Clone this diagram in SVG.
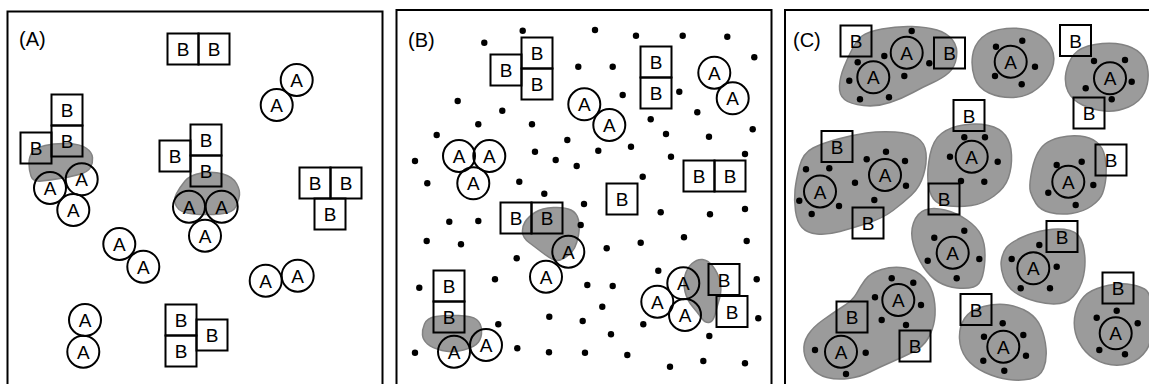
<svg xmlns="http://www.w3.org/2000/svg" width="1149" height="384" viewBox="0 0 1149 384">
  <style>
    .frame { fill: none; stroke: #000; stroke-width: 2; }
    .box { fill: none; stroke: #000; stroke-width: 2; }
    .ring { fill: none; stroke: #000; stroke-width: 2; }
    .blob { fill: #9b9b9b; stroke: #828282; stroke-width: 1.5; }
    .dot { fill: #000; }
    .t { font-family: "Liberation Sans", Arial, sans-serif; font-size: 19px; text-anchor: middle; fill: #000; }
    .tag { font-family: "Liberation Sans", Arial, sans-serif; font-size: 20px; fill: #000; }
  </style>

  <!-- Panel A: free molecules, two small aggregates -->
  <g id="panelA">
    <rect class="frame" x="7.5" y="11.5" width="375" height="390"/>
    <text class="tag" x="19" y="46">(A)</text>
    <g id="A-blobs">
      <path class="blob" d="M45,145.5 Q55,143 67.5,143.5 Q80,144 86,148 Q92,152 92.5,157.5 Q93,163 90.5,167.5 Q88,172 79,174.5 Q70,177 60,178.5 Q50,180 41.5,181 Q33,182 31,176 Q29,170 29,163.5 Q29,157 32,152.5 Q35,148 45,145.5 Z"/>
      <path class="blob" d="M185,181 Q190,175 201.5,173 Q213,171 223,174 Q233,177 236.5,183.5 Q240,190 239.5,195 Q239,200 236,206.5 Q233,213 220,214 Q207,215 193.5,214 Q180,213 176.5,206.5 Q173,200 176.5,193.5 Q180,187 185,181 Z"/>
    </g>
    <g id="A-bb-top">
      <rect class="box" x="167.5" y="33.5" width="31" height="31"/><text class="t" x="183" y="56">B</text>
      <rect class="box" x="198.5" y="33.5" width="31" height="31"/><text class="t" x="214" y="56">B</text>
    </g>
    <g id="A-aa-topright">
      <circle class="ring" cx="296.7" cy="80" r="16"/><text class="t" x="296.7" y="87">A</text>
      <circle class="ring" cx="276.7" cy="105" r="16"/><text class="t" x="276.7" y="112">A</text>
    </g>
    <g id="A-cluster-left">
      <rect class="box" x="51.5" y="94.5" width="31" height="31"/><text class="t" x="67" y="117">B</text>
      <rect class="box" x="51.5" y="125.5" width="31" height="31"/><text class="t" x="67" y="148">B</text>
      <rect class="box" x="20.5" y="132.5" width="31" height="31"/><text class="t" x="36" y="155">B</text>
      <circle class="ring" cx="50" cy="188" r="16"/><text class="t" x="50" y="195">A</text>
      <circle class="ring" cx="81.7" cy="179.3" r="16"/><text class="t" x="81.7" y="186.3">A</text>
      <circle class="ring" cx="73.3" cy="210" r="16"/><text class="t" x="73.3" y="217">A</text>
    </g>
    <g id="A-cluster-mid">
      <rect class="box" x="190.5" y="124.5" width="31" height="31"/><text class="t" x="206" y="147">B</text>
      <rect class="box" x="190.5" y="155.5" width="31" height="31"/><text class="t" x="206" y="178">B</text>
      <rect class="box" x="159.5" y="140.5" width="31" height="31"/><text class="t" x="175" y="163">B</text>
      <circle class="ring" cx="189" cy="206.7" r="16"/><text class="t" x="189" y="213.7">A</text>
      <circle class="ring" cx="221.7" cy="206.7" r="16"/><text class="t" x="221.7" y="213.7">A</text>
      <circle class="ring" cx="205" cy="235.7" r="16"/><text class="t" x="205" y="242.7">A</text>
    </g>
    <g id="A-bbb-right">
      <rect class="box" x="299.5" y="167.5" width="31" height="31"/><text class="t" x="315" y="190">B</text>
      <rect class="box" x="330.5" y="167.5" width="31" height="31"/><text class="t" x="346" y="190">B</text>
      <rect class="box" x="314.5" y="198.5" width="31" height="31"/><text class="t" x="330" y="221">B</text>
    </g>
    <g id="A-aa-mid">
      <circle class="ring" cx="119.3" cy="244" r="16"/><text class="t" x="119.3" y="251">A</text>
      <circle class="ring" cx="143.3" cy="266.7" r="16"/><text class="t" x="143.3" y="273.7">A</text>
    </g>
    <g id="A-aa-right">
      <circle class="ring" cx="265.7" cy="280.7" r="16"/><text class="t" x="265.7" y="287.7">A</text>
      <circle class="ring" cx="297.7" cy="275.7" r="16"/><text class="t" x="297.7" y="282.7">A</text>
    </g>
    <g id="A-aa-bottom">
      <circle class="ring" cx="85" cy="320" r="16"/><text class="t" x="85" y="327">A</text>
      <circle class="ring" cx="83.3" cy="351.7" r="16"/><text class="t" x="83.3" y="358.7">A</text>
    </g>
    <g id="A-bbb-bottom">
      <rect class="box" x="165.5" y="304.5" width="31" height="31"/><text class="t" x="181" y="327">B</text>
      <rect class="box" x="165.5" y="335.5" width="31" height="31"/><text class="t" x="181" y="358">B</text>
      <rect class="box" x="196.5" y="319.5" width="31" height="31"/><text class="t" x="212" y="342">B</text>
    </g>
  </g>

  <!-- Panel B: molecules among crowding particles -->
  <g id="panelB">
    <rect class="frame" x="396.5" y="10" width="375" height="390"/>
    <text class="tag" x="408" y="46.5">(B)</text>
    <g id="B-blobs">
      <path class="blob" d="M553.5,207.5 Q565,207 571,210 Q577,213 578.5,220 Q580,227 578.5,235 Q577,243 574.5,248 Q572,253 565,257.5 Q558,262 553,259.5 Q548,257 541.5,252 Q535,247 529,242.5 Q523,238 522.5,232.5 Q522,227 525,222 Q528,217 535,212.5 Q542,208 553.5,207.5 Z"/>
      <path class="blob" d="M424.5,324 Q427,318 436,316.5 Q445,315 458.5,315.5 Q472,316 476.5,319.5 Q481,323 481.5,330 Q482,337 478.5,342 Q475,347 463.5,350 Q452,353 442,350.5 Q432,348 427.5,344 Q423,340 422.5,335 Q422,330 424.5,324 Z"/>
      <path class="blob" d="M702.5,259.5 Q708,260 713,266.5 Q718,273 720,281.5 Q722,290 719.5,298.5 Q717,307 715,314.5 Q713,322 709,322.5 Q705,323 701.5,318 Q698,313 692.5,306.5 Q687,300 685,291.5 Q683,283 685,275.5 Q687,268 692,263.5 Q697,259 702.5,259.5 Z"/>
    </g>
    <g id="B-crowders">
      <circle class="dot" cx="522.7" cy="30.7" r="3.2"/>
      <circle class="dot" cx="484.3" cy="42.7" r="3.2"/>
      <circle class="dot" cx="595" cy="30" r="3.2"/>
      <circle class="dot" cx="636" cy="35.7" r="3.2"/>
      <circle class="dot" cx="682.7" cy="35.7" r="3.2"/>
      <circle class="dot" cx="727.3" cy="36.7" r="3.2"/>
      <circle class="dot" cx="754.3" cy="57.3" r="3.2"/>
      <circle class="dot" cx="578.3" cy="66.7" r="3.2"/>
      <circle class="dot" cx="612.7" cy="66.7" r="3.2"/>
      <circle class="dot" cx="457.7" cy="101" r="3.2"/>
      <circle class="dot" cx="502.3" cy="110.7" r="3.2"/>
      <circle class="dot" cx="622.7" cy="95" r="3.2"/>
      <circle class="dot" cx="679.3" cy="91.7" r="3.2"/>
      <circle class="dot" cx="697.3" cy="112.3" r="3.2"/>
      <circle class="dot" cx="478.3" cy="124.3" r="3.2"/>
      <circle class="dot" cx="532" cy="124.3" r="3.2"/>
      <circle class="dot" cx="650.7" cy="119.3" r="3.2"/>
      <circle class="dot" cx="436.7" cy="135" r="3.2"/>
      <circle class="dot" cx="567.3" cy="140" r="3.2"/>
      <circle class="dot" cx="666" cy="134" r="3.2"/>
      <circle class="dot" cx="709" cy="136.7" r="3.2"/>
      <circle class="dot" cx="752.7" cy="129.3" r="3.2"/>
      <circle class="dot" cx="598.3" cy="150.7" r="3.2"/>
      <circle class="dot" cx="631" cy="146.7" r="3.2"/>
      <circle class="dot" cx="535" cy="151.7" r="3.2"/>
      <circle class="dot" cx="555.7" cy="160" r="3.2"/>
      <circle class="dot" cx="576.7" cy="166" r="3.2"/>
      <circle class="dot" cx="671" cy="156.7" r="3.2"/>
      <circle class="dot" cx="745" cy="154" r="3.2"/>
      <circle class="dot" cx="415" cy="161" r="3.2"/>
      <circle class="dot" cx="427.3" cy="183.3" r="3.2"/>
      <circle class="dot" cx="519.3" cy="181.7" r="3.2"/>
      <circle class="dot" cx="544.3" cy="193.7" r="3.2"/>
      <circle class="dot" cx="642.7" cy="176.7" r="3.2"/>
      <circle class="dot" cx="584" cy="204" r="3.2"/>
      <circle class="dot" cx="449.3" cy="221.7" r="3.2"/>
      <circle class="dot" cx="478.3" cy="221" r="3.2"/>
      <circle class="dot" cx="580.7" cy="225" r="3.2"/>
      <circle class="dot" cx="660.7" cy="212.3" r="3.2"/>
      <circle class="dot" cx="710" cy="214.3" r="3.2"/>
      <circle class="dot" cx="745" cy="209" r="3.2"/>
      <circle class="dot" cx="426.7" cy="241" r="3.2"/>
      <circle class="dot" cx="461" cy="244.3" r="3.2"/>
      <circle class="dot" cx="640.7" cy="242.7" r="3.2"/>
      <circle class="dot" cx="684" cy="237.3" r="3.2"/>
      <circle class="dot" cx="746.7" cy="241" r="3.2"/>
      <circle class="dot" cx="516.7" cy="258.3" r="3.2"/>
      <circle class="dot" cx="606.7" cy="248.3" r="3.2"/>
      <circle class="dot" cx="495" cy="279.3" r="3.2"/>
      <circle class="dot" cx="419.3" cy="287.7" r="3.2"/>
      <circle class="dot" cx="587.3" cy="285" r="3.2"/>
      <circle class="dot" cx="612.7" cy="286" r="3.2"/>
      <circle class="dot" cx="658.3" cy="270.7" r="3.2"/>
      <circle class="dot" cx="756.7" cy="279.3" r="3.2"/>
      <circle class="dot" cx="602.3" cy="306.7" r="3.2"/>
      <circle class="dot" cx="549.3" cy="316.7" r="3.2"/>
      <circle class="dot" cx="582.7" cy="321" r="3.2"/>
      <circle class="dot" cx="498.3" cy="324.3" r="3.2"/>
      <circle class="dot" cx="643.3" cy="324.3" r="3.2"/>
      <circle class="dot" cx="611" cy="334.3" r="3.2"/>
      <circle class="dot" cx="709.3" cy="336" r="3.2"/>
      <circle class="dot" cx="758.3" cy="318.3" r="3.2"/>
      <circle class="dot" cx="415" cy="352.7" r="3.2"/>
      <circle class="dot" cx="517.3" cy="348.3" r="3.2"/>
      <circle class="dot" cx="549" cy="352.3" r="3.2"/>
      <circle class="dot" cx="585" cy="352.7" r="3.2"/>
      <circle class="dot" cx="627.3" cy="355" r="3.2"/>
      <circle class="dot" cx="670" cy="366.7" r="3.2"/>
      <circle class="dot" cx="703.3" cy="361" r="3.2"/>
      <circle class="dot" cx="745" cy="363.3" r="3.2"/>
    </g>
    <g id="B-bbb-topleft">
      <rect class="box" x="521.5" y="37.5" width="31" height="31"/><text class="t" x="537" y="60">B</text>
      <rect class="box" x="521.5" y="68.5" width="31" height="31"/><text class="t" x="537" y="91">B</text>
      <rect class="box" x="490.5" y="54.5" width="31" height="31"/><text class="t" x="506" y="77">B</text>
    </g>
    <g id="B-bb-stack">
      <rect class="box" x="640.5" y="46.5" width="31" height="31"/><text class="t" x="656" y="69">B</text>
      <rect class="box" x="640.5" y="77.5" width="31" height="31"/><text class="t" x="656" y="100">B</text>
    </g>
    <g id="B-aa-mid">
      <circle class="ring" cx="584.3" cy="104.3" r="16"/><text class="t" x="584.3" y="111.3">A</text>
      <circle class="ring" cx="609.3" cy="125" r="16"/><text class="t" x="609.3" y="132">A</text>
    </g>
    <g id="B-aa-topright">
      <circle class="ring" cx="714.3" cy="72.7" r="16"/><text class="t" x="714.3" y="79.7">A</text>
      <circle class="ring" cx="732.7" cy="98.3" r="16"/><text class="t" x="732.7" y="105.3">A</text>
    </g>
    <g id="B-aaa-left">
      <circle class="ring" cx="459" cy="156" r="16"/><text class="t" x="459" y="163">A</text>
      <circle class="ring" cx="489.3" cy="156" r="16"/><text class="t" x="489.3" y="163">A</text>
      <circle class="ring" cx="473.3" cy="183.3" r="16"/><text class="t" x="473.3" y="190.3">A</text>
    </g>
    <g id="B-bb-right">
      <rect class="box" x="683.5" y="160.5" width="31" height="31"/><text class="t" x="699" y="183">B</text>
      <rect class="box" x="714.5" y="160.5" width="31" height="31"/><text class="t" x="730" y="183">B</text>
    </g>
    <g id="B-b-single">
      <rect class="box" x="606.5" y="183.5" width="31" height="31"/><text class="t" x="622" y="206">B</text>
    </g>
    <g id="B-complex-mid">
      <rect class="box" x="500.5" y="202.5" width="31" height="31"/><text class="t" x="516" y="225">B</text>
      <rect class="box" x="531.5" y="202.5" width="31" height="31"/><text class="t" x="547" y="225">B</text>
      <circle class="ring" cx="568.3" cy="251.7" r="16"/><text class="t" x="568.3" y="258.7">A</text>
      <circle class="ring" cx="546" cy="276.7" r="16"/><text class="t" x="546" y="283.7">A</text>
    </g>
    <g id="B-complex-left">
      <rect class="box" x="433.5" y="270.5" width="31" height="31"/><text class="t" x="449" y="293">B</text>
      <rect class="box" x="433.5" y="301.5" width="31" height="31"/><text class="t" x="449" y="324">B</text>
      <circle class="ring" cx="454" cy="351.7" r="16"/><text class="t" x="454" y="358.7">A</text>
      <circle class="ring" cx="486" cy="345" r="16"/><text class="t" x="486" y="352">A</text>
    </g>
    <g id="B-complex-right">
      <circle class="ring" cx="683.3" cy="283.3" r="16"/><text class="t" x="683.3" y="290.3">A</text>
      <circle class="ring" cx="657.3" cy="301.7" r="16"/><text class="t" x="657.3" y="308.7">A</text>
      <circle class="ring" cx="685" cy="315" r="16"/><text class="t" x="685" y="322">A</text>
      <rect class="box" x="708.5" y="264" width="31" height="31"/><text class="t" x="724" y="286.5">B</text>
      <rect class="box" x="716.5" y="296" width="31" height="31"/><text class="t" x="732" y="318.5">B</text>
    </g>
  </g>

  <!-- Panel C: condensates, each A surrounded by its partners -->
  <g id="panelC">
    <rect class="frame" x="785" y="10" width="380" height="390"/>
    <text class="tag" x="793" y="46.5">(C)</text>
    <g id="C-blobs">
      <path class="blob" d="M882,29 Q897,26 912,26.5 Q927,27 937,30 Q947,33 952.5,40 Q958,47 956.5,57 Q955,67 949,72.5 Q943,78 933,82.5 Q923,87 913,92.5 Q903,98 890,102.5 Q877,107 863.5,105.5 Q850,104 844.5,99.5 Q839,95 839.5,86 Q840,77 844,67 Q848,57 852.5,48.5 Q857,40 862,36 Q867,32 882,29 Z"/>
      <path class="blob" d="M1006.5,28.5 Q1023,27 1035,32.5 Q1047,38 1051.5,48 Q1056,58 1052,69 Q1048,80 1037.5,88.5 Q1027,97 1013.5,97.5 Q1000,98 989,93 Q978,88 974.5,77.5 Q971,67 972.5,56 Q974,45 982,37.5 Q990,30 1006.5,28.5 Z"/>
      <path class="blob" d="M1095,44.5 Q1110,42 1122,44.5 Q1134,47 1140.5,53.5 Q1147,60 1148,71.5 Q1149,83 1144.5,92.5 Q1140,102 1128.5,107 Q1117,112 1105,111 Q1093,110 1082.5,105 Q1072,100 1068,91.5 Q1064,83 1066,72.5 Q1068,62 1074,54.5 Q1080,47 1095,44.5 Z"/>
      <path class="blob" d="M813,148 Q823,143 838,139 Q853,135 866.5,133 Q880,131 895,132 Q910,133 917.5,138 Q925,143 926,153 Q927,163 923.5,175 Q920,187 911.5,195 Q903,203 893,210.5 Q883,218 868,223 Q853,228 840,231.5 Q827,235 817,234 Q807,233 802,227.5 Q797,222 795.5,211 Q794,200 795,190 Q796,180 799.5,166.5 Q803,153 813,148 Z"/>
      <path class="blob" d="M941.5,133.5 Q950,127 963.5,125 Q977,123 988.5,125.5 Q1000,128 1005.5,135.5 Q1011,143 1011.5,155 Q1012,167 1008.5,177.5 Q1005,188 994,196 Q983,204 971.5,205.5 Q960,207 949,206 Q938,205 933.5,199 Q929,193 928,181.5 Q927,170 930,155 Q933,140 941.5,133.5 Z"/>
      <path class="blob" d="M1060,137.5 Q1070,135 1080,136 Q1090,137 1096.5,142 Q1103,147 1105,157 Q1107,167 1106,177 Q1105,187 1102.5,193.5 Q1100,200 1091.5,206 Q1083,212 1071.5,213.5 Q1060,215 1050,212.5 Q1040,210 1036,203.5 Q1032,197 1030.5,192 Q1029,187 1031,175 Q1033,163 1036.5,155.5 Q1040,148 1045,144 Q1050,140 1060,137.5 Z"/>
      <path class="blob" d="M925,210 Q933,207 945,210 Q957,213 967,220 Q977,227 981,235 Q985,243 985,255 Q985,267 982.5,276 Q980,285 973.5,287 Q967,289 957,288 Q947,287 938.5,282 Q930,277 923.5,267 Q917,257 913.5,245 Q910,233 913.5,223 Q917,213 925,210 Z"/>
      <path class="blob" d="M1021.5,237.5 Q1033,232 1046.5,230 Q1060,228 1070,230.5 Q1080,233 1083,245 Q1086,257 1084.5,270 Q1083,283 1076.5,292.5 Q1070,302 1060,303.5 Q1050,305 1036.5,301.5 Q1023,298 1015,292.5 Q1007,287 1003.5,277 Q1000,267 1001.5,259.5 Q1003,252 1006.5,247.5 Q1010,243 1021.5,237.5 Z"/>
      <path class="blob" d="M881.5,269.5 Q893,266 905,268 Q917,270 924.5,278.5 Q932,287 934,298.5 Q936,310 934.5,320 Q933,330 928,338.5 Q923,347 913,352 Q903,357 891.5,362 Q880,367 870,372 Q860,377 848.5,378.5 Q837,380 827,377.5 Q817,375 811,367.5 Q805,360 804,351.5 Q803,343 808,335 Q813,327 823,320 Q833,313 843,306.5 Q853,300 856.5,293.5 Q860,287 865,280 Q870,273 881.5,269.5 Z"/>
      <path class="blob" d="M983.5,306.5 Q997,303 1008.5,305 Q1020,307 1028.5,312.5 Q1037,318 1041,327.5 Q1045,337 1046,348.5 Q1047,360 1043.5,368.5 Q1040,377 1030,379 Q1020,381 1008.5,379.5 Q997,378 985,372.5 Q973,367 966.5,358.5 Q960,350 959.5,338.5 Q959,327 964.5,318.5 Q970,310 983.5,306.5 Z"/>
      <path class="blob" d="M1103.5,286.5 Q1117,283 1127,284 Q1137,285 1144.5,289 Q1152,293 1152.5,316.5 Q1153,340 1146.5,350 Q1140,360 1128.5,363.5 Q1117,367 1105,363.5 Q1093,360 1085.5,351.5 Q1078,343 1075.5,333 Q1073,323 1075.5,313 Q1078,303 1084,296.5 Q1090,290 1103.5,286.5 Z"/>
    </g>
    <g id="C-crowders">
      <circle class="dot" cx="857.7" cy="62.3" r="3.2"/>
      <circle class="dot" cx="849.3" cy="80.7" r="3.2"/>
      <circle class="dot" cx="860" cy="99.3" r="3.2"/>
      <circle class="dot" cx="889" cy="97.3" r="3.2"/>
      <circle class="dot" cx="884.3" cy="56" r="3.2"/>
      <circle class="dot" cx="911.7" cy="31" r="3.2"/>
      <circle class="dot" cx="904.3" cy="76" r="3.2"/>
      <circle class="dot" cx="929.3" cy="63.3" r="3.2"/>
      <circle class="dot" cx="996" cy="46.7" r="3.2"/>
      <circle class="dot" cx="1022.3" cy="40.7" r="3.2"/>
      <circle class="dot" cx="1035" cy="66.7" r="3.2"/>
      <circle class="dot" cx="1021.7" cy="84.3" r="3.2"/>
      <circle class="dot" cx="995" cy="76" r="3.2"/>
      <circle class="dot" cx="1094" cy="61" r="3.2"/>
      <circle class="dot" cx="1125" cy="60" r="3.2"/>
      <circle class="dot" cx="1131.7" cy="81.7" r="3.2"/>
      <circle class="dot" cx="1111.7" cy="99.3" r="3.2"/>
      <circle class="dot" cx="1085.7" cy="88.3" r="3.2"/>
      <circle class="dot" cx="886" cy="151.7" r="3.2"/>
      <circle class="dot" cx="866.7" cy="159.3" r="3.2"/>
      <circle class="dot" cx="905" cy="161" r="3.2"/>
      <circle class="dot" cx="855" cy="182.7" r="3.2"/>
      <circle class="dot" cx="906" cy="185.7" r="3.2"/>
      <circle class="dot" cx="829.3" cy="168.3" r="3.2"/>
      <circle class="dot" cx="806" cy="169.3" r="3.2"/>
      <circle class="dot" cx="799.3" cy="200.7" r="3.2"/>
      <circle class="dot" cx="811.7" cy="214" r="3.2"/>
      <circle class="dot" cx="839" cy="206" r="3.2"/>
      <circle class="dot" cx="874.3" cy="200" r="3.2"/>
      <circle class="dot" cx="964.3" cy="137.3" r="3.2"/>
      <circle class="dot" cx="985" cy="137.3" r="3.2"/>
      <circle class="dot" cx="950" cy="156.7" r="3.2"/>
      <circle class="dot" cx="997.7" cy="161.7" r="3.2"/>
      <circle class="dot" cx="961" cy="181" r="3.2"/>
      <circle class="dot" cx="984.3" cy="181.7" r="3.2"/>
      <circle class="dot" cx="1056.7" cy="165" r="3.2"/>
      <circle class="dot" cx="1081.7" cy="161.7" r="3.2"/>
      <circle class="dot" cx="1093.3" cy="185" r="3.2"/>
      <circle class="dot" cx="1048.3" cy="192.7" r="3.2"/>
      <circle class="dot" cx="1075.7" cy="205" r="3.2"/>
      <circle class="dot" cx="934.3" cy="237.7" r="3.2"/>
      <circle class="dot" cx="964.3" cy="230.7" r="3.2"/>
      <circle class="dot" cx="979.3" cy="259" r="3.2"/>
      <circle class="dot" cx="956.7" cy="278.3" r="3.2"/>
      <circle class="dot" cx="927.7" cy="260.7" r="3.2"/>
      <circle class="dot" cx="1039.3" cy="245" r="3.2"/>
      <circle class="dot" cx="1011.7" cy="259" r="3.2"/>
      <circle class="dot" cx="1056.7" cy="266.7" r="3.2"/>
      <circle class="dot" cx="1020.7" cy="288.3" r="3.2"/>
      <circle class="dot" cx="1050" cy="288.3" r="3.2"/>
      <circle class="dot" cx="891.7" cy="278.3" r="3.2"/>
      <circle class="dot" cx="913.3" cy="282.7" r="3.2"/>
      <circle class="dot" cx="921" cy="305" r="3.2"/>
      <circle class="dot" cx="875" cy="297.3" r="3.2"/>
      <circle class="dot" cx="881.7" cy="320" r="3.2"/>
      <circle class="dot" cx="906" cy="325" r="3.2"/>
      <circle class="dot" cx="815" cy="350" r="3.2"/>
      <circle class="dot" cx="865.7" cy="352.7" r="3.2"/>
      <circle class="dot" cx="846" cy="374" r="3.2"/>
      <circle class="dot" cx="1002.7" cy="323.3" r="3.2"/>
      <circle class="dot" cx="984" cy="336.7" r="3.2"/>
      <circle class="dot" cx="1023.3" cy="335" r="3.2"/>
      <circle class="dot" cx="983.3" cy="360.7" r="3.2"/>
      <circle class="dot" cx="1026" cy="355.7" r="3.2"/>
      <circle class="dot" cx="1004.3" cy="370.7" r="3.2"/>
      <circle class="dot" cx="1116.7" cy="310.7" r="3.2"/>
      <circle class="dot" cx="1096.7" cy="317.7" r="3.2"/>
      <circle class="dot" cx="1137.7" cy="323.3" r="3.2"/>
      <circle class="dot" cx="1099.3" cy="350" r="3.2"/>
      <circle class="dot" cx="1125" cy="354.3" r="3.2"/>
    </g>
    <g id="C-A">
      <circle class="ring" cx="873.3" cy="77.3" r="16"/><text class="t" x="873.3" y="84.3">A</text>
      <circle class="ring" cx="906.7" cy="52.7" r="16"/><text class="t" x="906.7" y="59.7">A</text>
      <circle class="ring" cx="1010.7" cy="61.7" r="16"/><text class="t" x="1010.7" y="68.7">A</text>
      <circle class="ring" cx="1110" cy="78.3" r="16"/><text class="t" x="1110" y="85.3">A</text>
      <circle class="ring" cx="820" cy="191.5" r="16"/><text class="t" x="820" y="198.5">A</text>
      <circle class="ring" cx="885" cy="175" r="16"/><text class="t" x="885" y="182">A</text>
      <circle class="ring" cx="971.7" cy="156.7" r="16"/><text class="t" x="971.7" y="163.7">A</text>
      <circle class="ring" cx="1068.3" cy="181.7" r="16"/><text class="t" x="1068.3" y="188.7">A</text>
      <circle class="ring" cx="952.7" cy="252.7" r="16"/><text class="t" x="952.7" y="259.7">A</text>
      <circle class="ring" cx="1033.3" cy="268.3" r="16"/><text class="t" x="1033.3" y="275.3">A</text>
      <circle class="ring" cx="898.3" cy="300" r="16"/><text class="t" x="898.3" y="307">A</text>
      <circle class="ring" cx="841" cy="351.7" r="16"/><text class="t" x="841" y="358.7">A</text>
      <circle class="ring" cx="1003.3" cy="346.7" r="16"/><text class="t" x="1003.3" y="353.7">A</text>
      <circle class="ring" cx="1115.7" cy="333.3" r="16"/><text class="t" x="1115.7" y="340.3">A</text>
    </g>
    <g id="C-B">
      <rect class="box" x="840.5" y="25.5" width="31" height="31"/><text class="t" x="856" y="48">B</text>
      <rect class="box" x="934" y="37.5" width="31" height="31"/><text class="t" x="949.5" y="60">B</text>
      <rect class="box" x="1060" y="25" width="31" height="31"/><text class="t" x="1075.5" y="47.5">B</text>
      <rect class="box" x="1073.5" y="97.5" width="31" height="31"/><text class="t" x="1089" y="120">B</text>
      <rect class="box" x="953.5" y="100" width="31" height="31"/><text class="t" x="969" y="122.5">B</text>
      <rect class="box" x="821.5" y="131" width="31" height="31"/><text class="t" x="837" y="153.5">B</text>
      <rect class="box" x="852.5" y="207.5" width="31" height="31"/><text class="t" x="868" y="230">B</text>
      <rect class="box" x="928.5" y="183.5" width="31" height="31"/><text class="t" x="944" y="206">B</text>
      <rect class="box" x="1095.5" y="144.5" width="31" height="31"/><text class="t" x="1111" y="167">B</text>
      <rect class="box" x="1046.5" y="221" width="31" height="31"/><text class="t" x="1062" y="243.5">B</text>
      <rect class="box" x="836.5" y="301.5" width="31" height="31"/><text class="t" x="852" y="324">B</text>
      <rect class="box" x="899.5" y="330.5" width="31" height="31"/><text class="t" x="915" y="353">B</text>
      <rect class="box" x="960.5" y="294" width="31" height="31"/><text class="t" x="976" y="316.5">B</text>
      <rect class="box" x="1102.5" y="272.5" width="31" height="31"/><text class="t" x="1118" y="295">B</text>
    </g>
  </g>
</svg>
